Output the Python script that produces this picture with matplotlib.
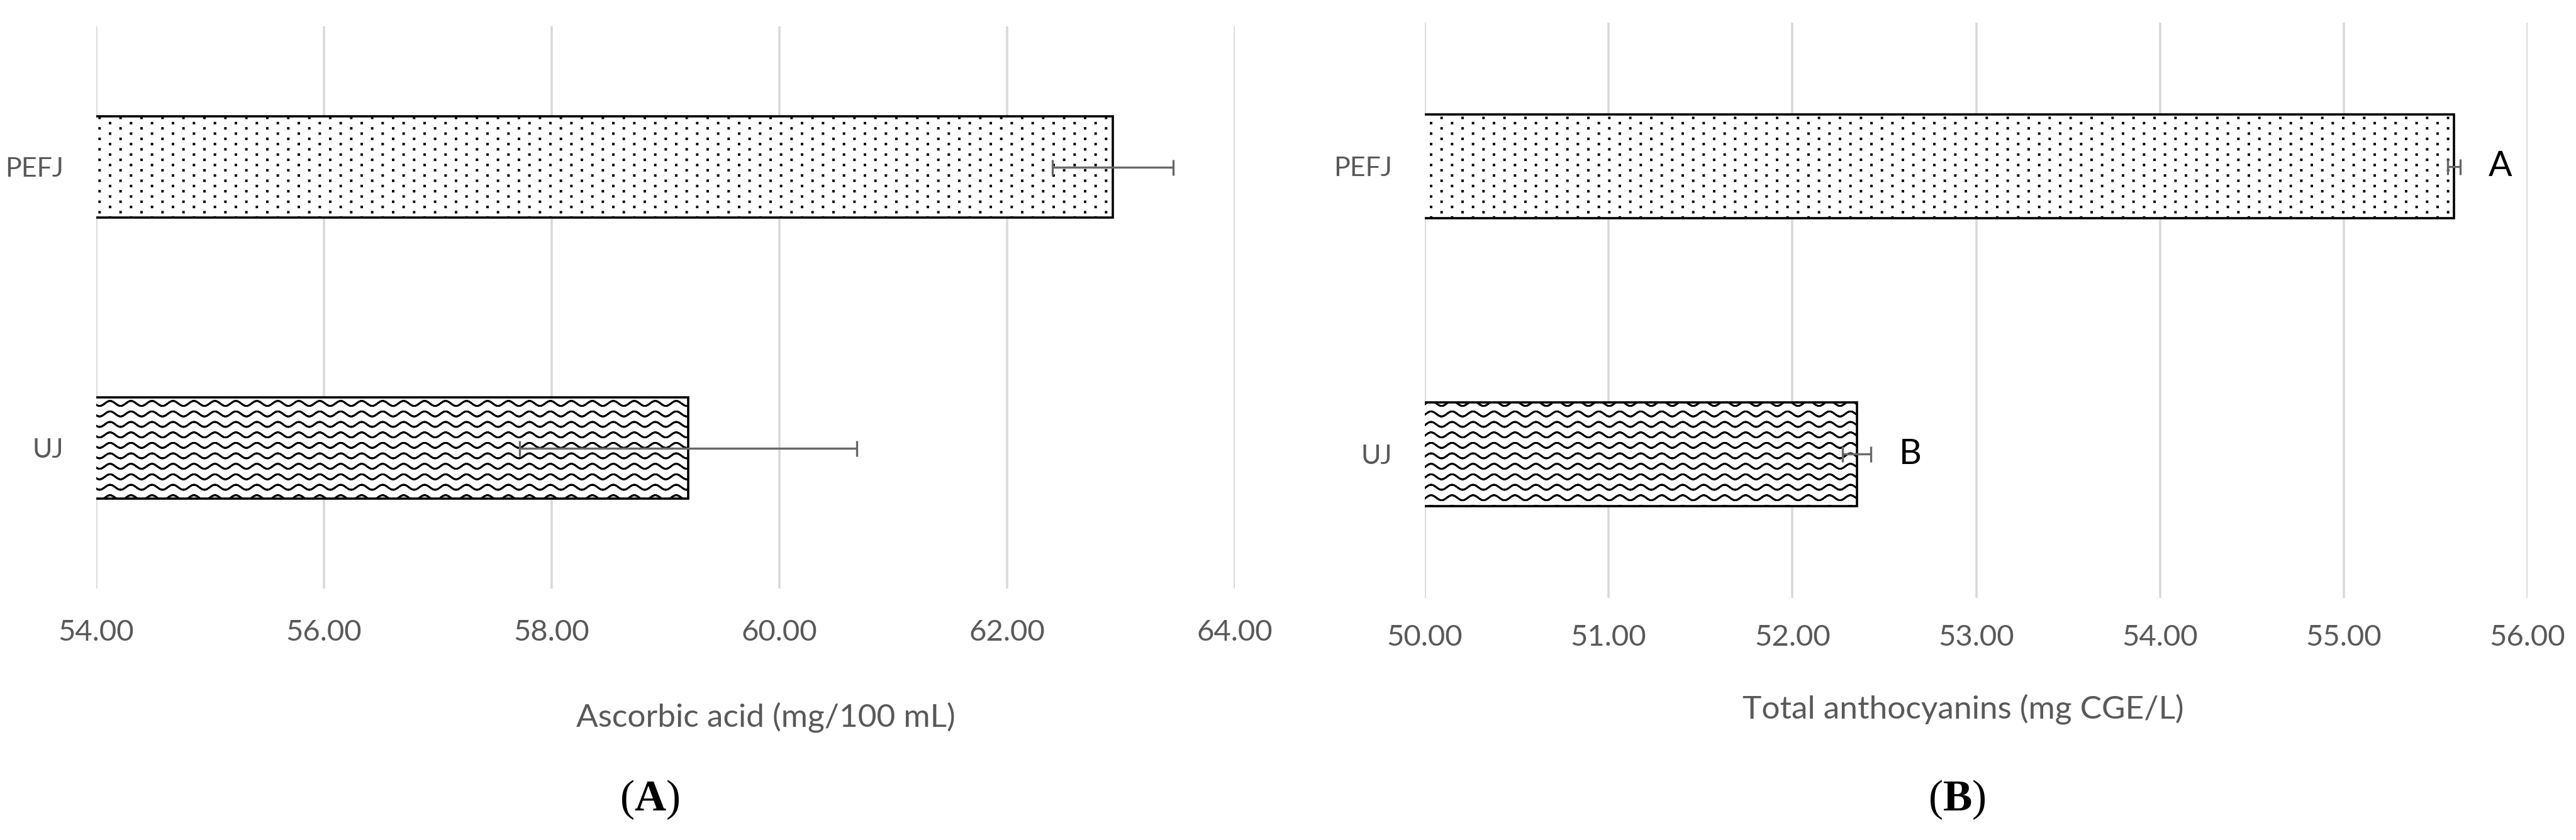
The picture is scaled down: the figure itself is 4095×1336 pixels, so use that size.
import numpy as np
import matplotlib
matplotlib.use('Agg')
import matplotlib.pyplot as plt
from matplotlib import hatch as mhatch
from matplotlib.path import Path

# Data
categories = ['UJ', 'PEFJ']
ascorbic = [59.20, 62.93]
ascorbic_err = [1.48, 0.53]
anthocyanins = [52.35, 55.60]
anthocyanins_err = [0.077, 0.034]
antho_letters = ['B', 'A']
ascorbic_ticks = [54, 56, 58, 60, 62, 64]
antho_ticks = [50, 51, 52, 53, 54, 55, 56]


# --- custom fill patterns (Excel-like wave and 10% dots) ---
class WaveHatch(mhatch.HatchPatternBase):
    # one wavy row per 'x'
    def __init__(self, hatch, density):
        self.rows = hatch.count('x')
        self.pts = 3 * 16 + 1
        self.num_vertices = self.rows * (2 * self.pts - 1)

    def set_vertices_and_codes(self, vertices, codes):
        t = np.linspace(0, 1, self.pts)
        y = 0.04 * np.sin(2 * np.pi * 3 * t)
        xs = np.concatenate([t, t[-2::-1]])
        ys = np.concatenate([y, y[-2::-1]])
        n = len(xs)
        for i in range(self.rows):
            vertices[i * n:(i + 1) * n, 0] = xs
            vertices[i * n:(i + 1) * n, 1] = ys + (i + 0.5) / self.rows
            codes[i * n] = Path.MOVETO
            codes[i * n + 1:(i + 1) * n] = Path.LINETO


class DotHatch(mhatch.HatchPatternBase):
    # one staggered row of small square dots per '.'
    def __init__(self, hatch, density):
        self.rows = hatch.count('.')
        self.cols = 3
        self.num_vertices = self.rows * self.cols * 5

    def set_vertices_and_codes(self, vertices, codes):
        s = 0.006
        k = 0
        for i in range(self.rows):
            y = (i + 0.5) / self.rows
            for j in range(self.cols):
                x = (j + (0.25 if i % 2 == 0 else 0.75)) / self.cols
                vertices[k:k + 5] = [(x - s, y - s), (x + s, y - s),
                                     (x + s, y + s), (x - s, y + s), (x - s, y - s)]
                codes[k:k + 5] = [Path.MOVETO, Path.LINETO, Path.LINETO,
                                  Path.LINETO, Path.CLOSEPOLY]
                k += 5


mhatch._hatch_types[:] = [WaveHatch, DotHatch]

plt.rcParams['hatch.linewidth'] = 2.0
plt.rcParams['font.family'] = ['Lato', 'DejaVu Sans']
plt.rcParams['mathtext.fontset'] = 'custom'
plt.rcParams['mathtext.rm'] = 'Liberation Serif'
plt.rcParams['mathtext.bf'] = 'Liberation Serif:bold'

W, H = 4095, 1336
fig = plt.figure(figsize=(W / 100, H / 100), dpi=100)
txt_color = '#595959'
hatches = ['x' * 6, '.' * 12]
ypos = np.arange(len(categories))


def style_axis(ax, ticks, pad):
    ax.set_xlim(ticks[0], ticks[-1])
    ax.set_ylim(-0.5, 1.5)
    ax.set_xticks(ticks)
    ax.set_xticklabels([f'{t:.2f}' for t in ticks])
    ax.set_yticks(ypos)
    ax.set_yticklabels(categories)
    ax.tick_params(axis='x', length=0, pad=pad, labelsize=34, labelcolor=txt_color)
    ax.tick_params(axis='y', length=0, pad=37, labelsize=31, labelcolor=txt_color)
    ax.grid(axis='x', color='#d9d9d9', linewidth=2.6)
    ax.set_axisbelow(True)
    for sp in ax.spines.values():
        sp.set_visible(False)


def draw_bars(ax, vals, errs):
    bars = ax.barh(ypos, vals, height=0.36, color='white', edgecolor='black', linewidth=2.6)
    for b, h in zip(bars, hatches):
        b.set_hatch(h)
    ax.errorbar(vals, ypos, xerr=errs, fmt='none', ecolor='#686868',
                elinewidth=2.4, capsize=9, capthick=2.4, zorder=5)


# (A) ascorbic acid
ax1 = fig.add_axes([153 / W, 1 - 936 / H, 1810 / W, 894 / H])
style_axis(ax1, ascorbic_ticks, 35)
draw_bars(ax1, ascorbic, ascorbic_err)
ax1.set_xlabel('Ascorbic acid (mg/100 mL)', fontsize=37, color=txt_color)
ax1.xaxis.set_label_coords(0.588, -0.229)
ax1.xaxis.label.set_va('center')

# (B) total anthocyanins
ax2 = fig.add_axes([2265 / W, 1 - 951 / H, 1753 / W, 915 / H])
style_axis(ax2, antho_ticks, 30)
draw_bars(ax2, anthocyanins, anthocyanins_err)
for v, e, y, lab in zip(anthocyanins, anthocyanins_err, ypos, antho_letters):
    ax2.annotate(lab, (v + e, y), xytext=(32, 0), textcoords='offset points',
                 ha='left', va='center', fontsize=40, color='black')
ax2.set_xlabel('Total anthocyanins (mg CGE/L)', fontsize=37, color=txt_color)
ax2.xaxis.set_label_coords(0.488, -0.193)
ax2.xaxis.label.set_va('center')

fig.text(1033 / W, 1 - 1272 / H, r'$\mathrm{(}\mathbf{A}\mathrm{)}$',
         ha='center', va='center', fontsize=50)
fig.text(3111 / W, 1 - 1272 / H, r'$\mathrm{(}\mathbf{B}\mathrm{)}$',
         ha='center', va='center', fontsize=50)

fig.savefig('out.png', dpi=100, facecolor='white')
